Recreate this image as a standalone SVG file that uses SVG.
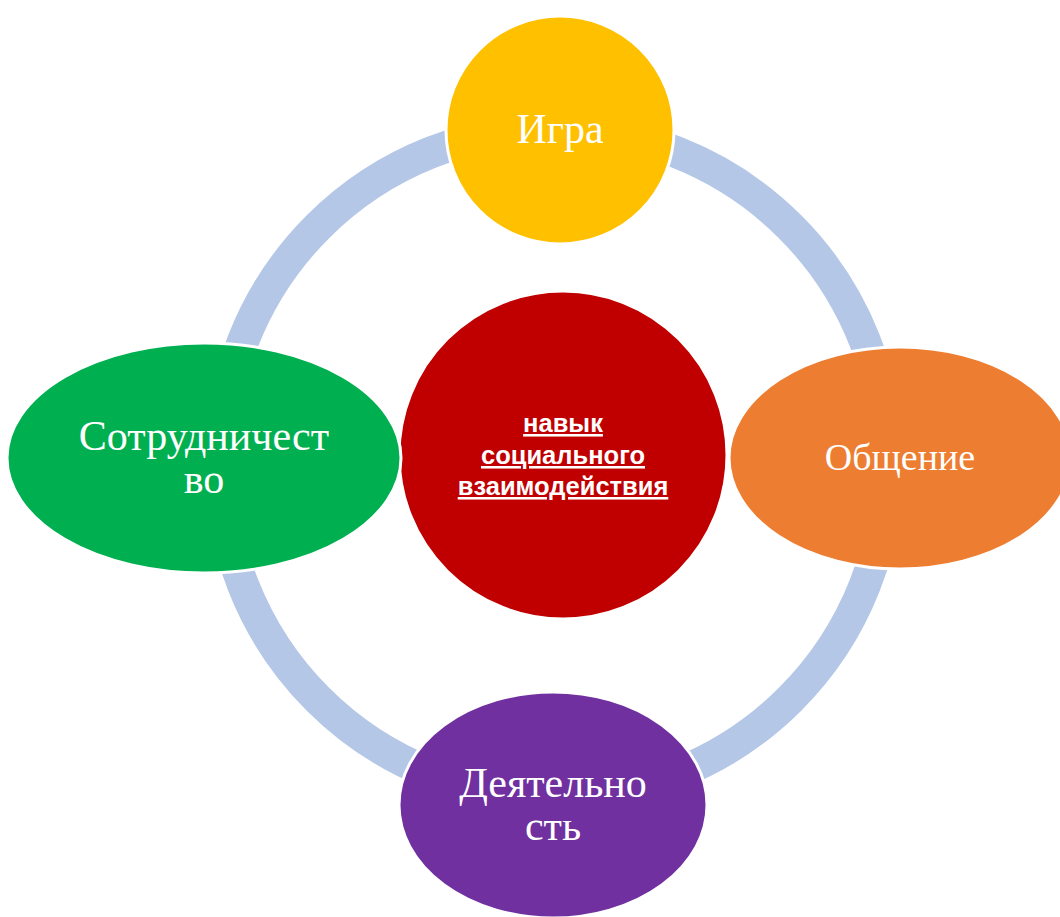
<svg xmlns="http://www.w3.org/2000/svg" width="1060" height="917" viewBox="0 0 1060 917">
<style>
.node{stroke:#FFFFFF;stroke-width:3}
.lbl{font-family:"Liberation Serif","Times New Roman",serif;font-size:42px;fill:#FFFFFF;text-anchor:middle}
.ctr{font-family:"Liberation Sans",Arial,sans-serif;font-weight:bold;font-size:25.5px;fill:#FFFFFF;text-anchor:middle;text-decoration:underline}
</style>
<rect width="1060" height="917" fill="#FFFFFF"/>
<g id="connectors">
<circle cx="554" cy="463" r="334" fill="none" stroke="#B4C7E7" stroke-width="32"/>
</g>
<g id="center">
<circle class="node" cx="563" cy="455" r="164" fill="#C00000"/>
<text class="ctr" x="563" y="432">навык</text>
<text class="ctr" x="563" y="464">социального</text>
<text class="ctr" x="563" y="495">взаимодействия</text>
</g>
<g id="igra">
<circle class="node" cx="560" cy="130" r="114" fill="#FFC000"/>
<text class="lbl" x="560" y="143">Игра</text>
</g>
<g id="obshchenie">
<ellipse class="node" cx="900" cy="458" rx="171" ry="111" fill="#ED7D31"/>
<text class="lbl" x="900" y="470" style="font-size:38px">Общение</text>
</g>
<g id="deyatelnost">
<ellipse class="node" cx="553" cy="805" rx="154" ry="113" fill="#7030A0"/>
<text class="lbl" x="553" y="797">Деятельно</text>
<text class="lbl" x="553" y="840">сть</text>
</g>
<g id="sotrudnichestvo">
<ellipse class="node" cx="204" cy="458" rx="197" ry="115" fill="#00B050"/>
<text class="lbl" x="204" y="450">Сотрудничест</text>
<text class="lbl" x="204" y="493">во</text>
</g>
</svg>
